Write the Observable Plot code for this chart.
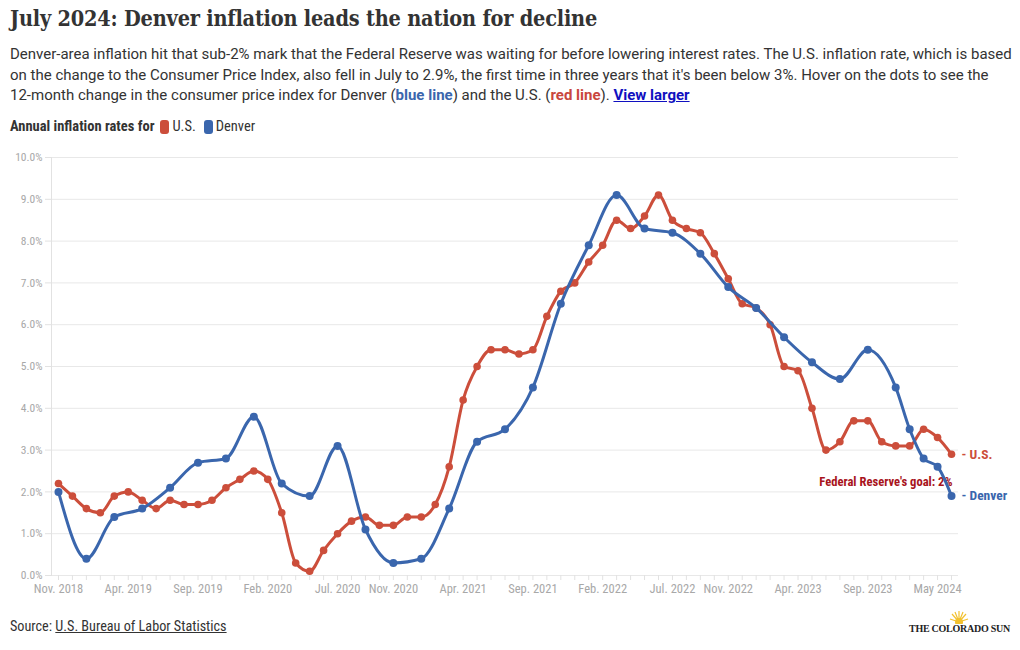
<!DOCTYPE html>
<html>
<head>
<meta charset="utf-8">
<script src="https://cdn.jsdelivr.net/npm/d3@7"></script>
<script src="https://cdn.jsdelivr.net/npm/@observablehq/plot@0.6"></script>
<style>
  html, body { margin: 0; padding: 0; background: #fff; }
  #root { position: relative; width: 1020px; height: 650px; overflow: hidden; }
  .cond { font-family: "Roboto Condensed", "Liberation Sans Narrow", "Arial Narrow", Roboto, sans-serif; }
  #title { position: absolute; left: 10px; top: 6px; font-family: "DejaVu Serif", serif; font-stretch: condensed; font-weight: bold; font-size: 21.5px; color: #333; white-space: nowrap; letter-spacing: -0.2px; }
  #sub { position: absolute; left: 10px; top: 44px; font-family: Roboto, sans-serif; font-size: 15px; line-height: 20.6px; color: #333; white-space: nowrap; }
  #sub b.blue { color: #3a66ad; }
  #sub b.red { color: #c9463d; }
  #sub a { color: #1010c0; font-weight: bold; text-decoration: underline; }
  #legend { position: absolute; left: 10px; top: 118px; font-size: 14.5px; color: #333; white-space: nowrap; display: flex; align-items: center; }
  #legend .sw { display: inline-block; width: 9px; height: 14px; border-radius: 3px; margin: 0 3px 0 6px; }
  #chart { position: absolute; left: 0; top: 140px; }
  #source { position: absolute; left: 10px; top: 618px; font-size: 14.2px; color: #333; }
  #source a { color: #333; text-decoration: underline; }
  #logo { position: absolute; right: 10px; top: 610px; text-align: center; }
  #logo .name { font-family: "Liberation Serif", serif; font-weight: bold; font-size: 10px; color: #222; letter-spacing: -0.25px; }
</style>
</head>
<body>
<div id="root">
  <div id="title">July 2024: Denver inflation leads the nation for decline</div>
  <div id="sub">Denver-area inflation hit that sub-2% mark that the Federal Reserve was waiting for before lowering interest rates. The U.S. inflation rate, which is based<br>on the change to the Consumer Price Index, also fell in July to 2.9%, the first time in three years that it's been below 3%. Hover on the dots to see the<br>12-month change in the consumer price index for Denver (<b class="blue">blue line</b>) and the U.S. (<b class="red">red line</b>). <a>View larger</a></div>
  <div id="legend" class="cond"><b>Annual inflation rates for</b><span class="sw" style="background:#cc4e3b"></span>U.S.<span class="sw" style="background:#3a66ad;margin-left:8px"></span>Denver</div>
  <div id="chart"></div>
  <div id="source" class="cond">Source: <a>U.S. Bureau of Labor Statistics</a></div>
  <div id="logo">
    <svg width="20" height="14" viewBox="0 0 20 14" style="display:block;margin:0 auto -1px auto">
      <g stroke="#f2c12e" stroke-width="1.2">
        <line x1="10" y1="12" x2="10" y2="1"/><line x1="10" y1="12" x2="3" y2="4"/><line x1="10" y1="12" x2="17" y2="4"/>
        <line x1="10" y1="12" x2="1" y2="9"/><line x1="10" y1="12" x2="19" y2="9"/><line x1="10" y1="12" x2="6" y2="2"/><line x1="10" y1="12" x2="14" y2="2"/>
      </g>
      <circle cx="10" cy="12" r="4" fill="#f2c12e"/>
    </svg>
    <div class="name">THE COLORADO SUN</div>
  </div>
</div>
<script>
// Categories (x axis): monthly Nov 2018 – Nov 2023, then bimonthly to Jul 2024
const months = [
  "2018-11","2018-12",
  "2019-01","2019-02","2019-03","2019-04","2019-05","2019-06","2019-07","2019-08","2019-09","2019-10","2019-11","2019-12",
  "2020-01","2020-02","2020-03","2020-04","2020-05","2020-06","2020-07","2020-08","2020-09","2020-10","2020-11","2020-12",
  "2021-01","2021-02","2021-03","2021-04","2021-05","2021-06","2021-07","2021-08","2021-09","2021-10","2021-11","2021-12",
  "2022-01","2022-02","2022-03","2022-04","2022-05","2022-06","2022-07","2022-08","2022-09","2022-10","2022-11","2022-12",
  "2023-01","2023-02","2023-03","2023-04","2023-05","2023-06","2023-07","2023-08","2023-09","2023-10","2023-11",
  "2024-01","2024-03","2024-05","2024-07"
];
// U.S. annual CPI change (%)
const usValues = [
  2.2,1.9,
  1.6,1.5,1.9,2.0,1.8,1.6,1.8,1.7,1.7,1.8,2.1,2.3,
  2.5,2.3,1.5,0.3,0.1,0.6,1.0,1.3,1.4,1.2,1.2,1.4,
  1.4,1.7,2.6,4.2,5.0,5.4,5.4,5.3,5.4,6.2,6.8,7.0,
  7.5,7.9,8.5,8.3,8.6,9.1,8.5,8.3,8.2,7.7,7.1,6.5,
  6.4,6.0,5.0,4.9,4.0,3.0,3.2,3.7,3.7,3.2,3.1,
  3.1,3.5,3.3,2.9
];
// Denver (bimonthly)
const denverMonths = [
  "2018-11","2019-01","2019-03","2019-05","2019-07","2019-09","2019-11",
  "2020-01","2020-03","2020-05","2020-07","2020-09","2020-11",
  "2021-01","2021-03","2021-05","2021-07","2021-09","2021-11",
  "2022-01","2022-03","2022-05","2022-07","2022-09","2022-11",
  "2023-01","2023-03","2023-05","2023-07","2023-09","2023-11",
  "2024-01","2024-03","2024-05","2024-07"
];
const denverValues = [
  2.0,0.4,1.4,1.6,2.1,2.7,2.8,
  3.8,2.2,1.9,3.1,1.1,0.3,
  0.4,1.6,3.2,3.5,4.5,6.5,
  7.9,9.1,8.3,8.2,7.7,6.9,
  6.4,5.7,5.1,4.7,5.4,4.5,
  3.5,2.8,2.6,1.9
];
// Labelled x ticks
const tickMonths = ["2018-11","2019-04","2019-09","2020-02","2020-07","2020-11","2021-04","2021-09","2022-02","2022-07","2022-11","2023-04","2023-09","2024-05"];
const tickLabels = ["Nov. 2018","Apr. 2019","Sep. 2019","Feb. 2020","Jul. 2020","Nov. 2020","Apr. 2021","Sep. 2021","Feb. 2022","Jul. 2022","Nov. 2022","Apr. 2023","Sep. 2023","May 2024"];
const yTicks = [0,1,2,3,4,5,6,7,8,9,10];
const fedGoal = 2;

const RED = "#cc4e3b", BLUE = "#3a66ad";
const us = months.map((m, i) => ({month: m, value: usValues[i]}));
const denver = denverMonths.map((m, i) => ({month: m, value: denverValues[i]}));
const labelOf = new Map(tickMonths.map((m, i) => [m, tickLabels[i]]));
const cond = '"Roboto Condensed", "Liberation Sans Narrow", "Arial Narrow", Roboto, sans-serif';

const chart = Plot.plot({
  width: 1020,
  height: 470,
  marginTop: 17,
  marginBottom: 35,
  marginLeft: 51,
  marginRight: 62,
  style: {fontFamily: cond, background: "transparent", overflow: "visible"},
  x: {type: "point", domain: months, padding: 0.5},
  y: {domain: [0, 10]},
  marks: [
    Plot.ruleY(yTicks, {stroke: "#e8e8e8", strokeWidth: 1}),
    Plot.frame({anchor: "left", stroke: "#e2e2e2"}),
    Plot.axisY(yTicks, {tickFormat: d => d.toFixed(1) + "%", tickSize: 6, tickPadding: 3, stroke: "#e2e2e2", color: "#a8a8a8", fontSize: 11.5, label: null}),
    Plot.axisX(months, {tickFormat: d => labelOf.get(d) || "", tickSize: 5, tickPadding: 4, stroke: "#e2e2e2", color: "#a8a8a8", fontSize: 12.5, label: null}),
    Plot.ruleY([{y: fedGoal, x2: months[months.length - 1]}], {y: "y", x2: "x2", stroke: "#111", strokeWidth: 2, strokeDasharray: "6,4"}),
    Plot.text([{x: months[months.length - 1], y: fedGoal}], {x: "x", y: "y", text: d => "Federal Reserve's goal: 2%", textAnchor: "end", dy: -10, dx: 1, fill: "#a8141c", fontWeight: "bold", fontSize: 12.6}),
    Plot.line(us, {x: "month", y: "value", stroke: RED, strokeWidth: 3, curve: "monotone-x"}),
    Plot.dot(us, {x: "month", y: "value", fill: RED, r: 3.8}),
    Plot.line(denver, {x: "month", y: "value", stroke: BLUE, strokeWidth: 3, curve: "monotone-x"}),
    Plot.dot(denver, {x: "month", y: "value", fill: BLUE, r: 4}),
    Plot.text([us[us.length - 1]], {x: "month", y: "value", text: d => "- U.S.", textAnchor: "start", dx: 10, fill: RED, fontWeight: "bold", fontSize: 13.5}),
    Plot.text([denver[denver.length - 1]], {x: "month", y: "value", text: d => "- Denver", textAnchor: "start", dx: 10, fill: BLUE, fontWeight: "bold", fontSize: 13.5})
  ]
});
document.getElementById("chart").appendChild(chart);
</script>
</body>
</html>
